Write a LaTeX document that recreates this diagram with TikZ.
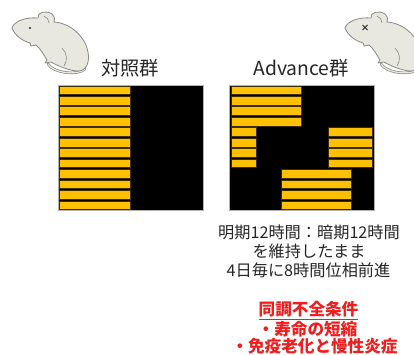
\documentclass[tikz,border=0pt]{standalone}
\usepackage{fontspec}
\newfontfamily\jpfont{Noto Sans CJK JP}
\definecolor{mousefill}{HTML}{E8E8E0}
\definecolor{mouseline}{HTML}{8A8A85}
\definecolor{barfill}{HTML}{FFC000}
\definecolor{barline}{HTML}{3C2E00}
\definecolor{txtgray}{HTML}{262626}
\definecolor{alertred}{HTML}{F01E1E}
\tikzset{
  lightbar/.style={fill=barfill, draw=barline, line width=0.7pt},
  darkbox/.style={fill=black, draw=gray!60, line width=0.5pt},
  grouptitle/.style={font=\jpfont\fontsize{19.3}{21}\selectfont, text=txtgray, inner sep=0pt},
  notetext/.style={font=\jpfont\fontsize{16.2}{18}\selectfont, text=txtgray, inner sep=0pt},
  alerttext/.style={font=\jpfont\bfseries\fontsize{16.6}{18}\selectfont, text=alertred, inner sep=0pt},
  mousepic/.pic={
    % tail loop under the body
    \draw[mouseline, line width=2.6pt, line cap=round] (48,64) .. controls (53,73) and (78,76) .. (85,69);
    \draw[mousefill, line width=1.2pt, line cap=round] (48,64) .. controls (53,73) and (78,76) .. (85,69);
    % body outline
    \draw[fill=mousefill, draw=mouseline, line width=0.8pt, line join=round]
      (12,28) .. controls (14,21) and (26,17) .. (38,18)
      .. controls (37,12) and (46,10) .. (52,14)
      .. controls (55,17) and (55,20) .. (54,22)
      .. controls (70,23) and (85,36) .. (88,52)
      .. controls (90,63) and (86,71) .. (78,71)
      .. controls (70,71) and (58,66) .. (51,62)
      -- (45,63) -- (47,60)
      .. controls (44,55) and (40,48) .. (36,45)
      -- (31,46) -- (30,43)
      .. controls (23,41) and (15,36) .. (12,28) -- cycle;
    % inner ear and haunch lines
    \draw[mouseline, line width=0.6pt] (44,16) .. controls (47,17) and (49,20) .. (49,23);
    \draw[mouseline, line width=0.6pt] (62,48) .. controls (67,53) and (68,60) .. (64,66);
  }
}
\begin{document}
\begin{tikzpicture}[x=1pt, y=-1pt]
  \clip (0,0) rectangle (414,355);
  \fill[white] (0,0) rectangle (414,355);

  % mice
  \pic (ctlmouse) at (0,0) {mousepic};
  \fill[txtgray] (30,28) circle (1.2);
  \pic (advmouse) at (333,0) {mousepic};
  \draw[txtgray, line width=0.9pt] (362.5,25) -- (367.5,30) (367.5,25) -- (362.5,30);

  % group titles
  \node[grouptitle] (ctl) at (130,68) {対照群};
  \node[grouptitle] (adv) at (301,68) {Advance群};

  % control schedule: 12 h light / 12 h dark every day
  \draw[darkbox] (58,85) rectangle (203,210.5);
  \foreach \i in {0,...,11}
    \draw[lightbar] (59.5,{85+\i*10.46+0.9}) rectangle (130.5,{85+(\i+1)*10.46-0.9});

  % advance schedule: light phase moved 8 h earlier every 4 days
  \draw[darkbox] (229.5,85) rectangle (374,210.5);
  \foreach \i in {0,...,3}
    \draw[lightbar] (231,{85+\i*10.46+0.9}) rectangle (301,{85+(\i+1)*10.46-0.9});
  \foreach \i in {4,...,7}{
    \draw[lightbar] (231,{85+\i*10.46+0.9}) rectangle (256.5,{85+(\i+1)*10.46-0.9});
    \draw[lightbar] (328.5,{85+\i*10.46+0.9}) rectangle (372.5,{85+(\i+1)*10.46-0.9});
  }
  \foreach \i in {8,...,11}
    \draw[lightbar] (281,{85+\i*10.46+0.9}) rectangle (351,{85+(\i+1)*10.46-0.9});

  % description
  \node[notetext] (n1) at (309,232) {明期12時間：暗期12時間};
  \node[notetext] (n2) at (309,251.5) {を維持したまま};
  \node[notetext] (n3) at (308.5,270.5) {4日毎に8時間位相前進};

  % outcome
  \node[alerttext] (a1) at (308.5,310.5) {\underline{同調不全条件}};
  \node[alerttext] (a2) at (307.5,329) {・寿命の短縮};
  \node[alerttext] (a3) at (314.5,346.5) {・免疫老化と慢性炎症};
\end{tikzpicture}
\end{document}
